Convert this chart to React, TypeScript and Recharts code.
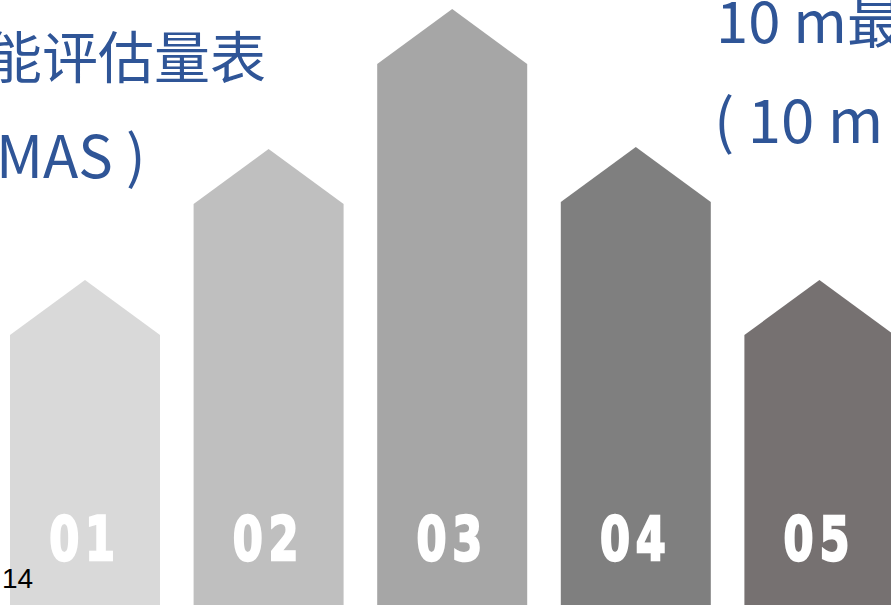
import React from 'react';
import { BarChart, Bar, XAxis, YAxis, Cell, LabelList } from 'recharts';

// arrow bars: value = height of the tip above the bottom edge
const steps = ['01', '02', '03', '04', '05'];
const heights = [325, 456, 596, 458, 325];
const colors = ['#D9D9D9', '#BFBFBF', '#A6A6A6', '#7F7F7F', '#767171'];

const leftTitle = ['能评估量表', 'MAS )'];
const rightTitle = ['10 m最', '( 10 m'];
const pageNo = '14';

const data = steps.map((step, i) => ({ step, height: heights[i] }));

const HEAD = 55;
const TITLE_BLUE = '#2F5597';

function Arrow(props: any) {
  const { x, y, width, height, fill } = props;
  if (!height) return null;
  const pts = [
    [x, y + HEAD],
    [x + width / 2, y],
    [x + width, y + HEAD],
    [x + width, y + height],
    [x, y + height],
  ]
    .map((p) => p.join(','))
    .join(' ');
  return <polygon points={pts} fill={fill} />;
}

function StepLabel(props: any) {
  const { x, y, width, height, value } = props;
  const cx = x + width / 2;
  const by = y + height - 45;
  return (
    <text
      x={0}
      y={0}
      transform={`translate(${cx},${by}) scale(0.72,1)`}
      textAnchor="middle"
      fill="#fff"
      stroke="#fff"
      strokeWidth={2.5}
      fontSize={60}
      fontWeight="bold"
      letterSpacing={8}
      fontFamily="'DejaVu Sans', sans-serif"
    >
      {value}
    </text>
  );
}

export default function App() {
  return (
    <div style={{ position: 'absolute', left: 0, top: 0, width: 891, height: 605, overflow: 'hidden', background: '#fff' }}>
      <div style={{ position: 'absolute', left: -7, top: 0 }}>
        <BarChart
          width={918}
          height={605}
          data={data}
          margin={{ top: 0, right: 0, left: 0, bottom: 0 }}
          barSize={150}
        >
          <XAxis dataKey="step" hide />
          <YAxis hide domain={[0, 605]} />
          <Bar dataKey="height" shape={Arrow} isAnimationActive={false}>
            {data.map((d, i) => (
              <Cell key={d.step} fill={colors[i]} />
            ))}
            <LabelList dataKey="step" content={StepLabel} />
          </Bar>
        </BarChart>
      </div>
      <svg
        width={891}
        height={605}
        style={{ position: 'absolute', left: 0, top: 0, pointerEvents: 'none' }}
        fontFamily="'Noto Sans CJK SC', 'Noto Sans', sans-serif"
      >
        <text x={-14} y={78} fontSize={56} fill={TITLE_BLUE}>{leftTitle[0]}</text>
        <text x={-4} y={178} fontSize={58} fill={TITLE_BLUE}>{leftTitle[1]}</text>
        <text x={716} y={43} fontSize={58} fill={TITLE_BLUE}>{rightTitle[0]}</text>
        <text x={714} y={143} fontSize={60} fill={TITLE_BLUE}>{rightTitle[1]}</text>
        <text x={2} y={588} fontSize={28} fill="#000" fontFamily="'Liberation Sans', Arial, sans-serif">{pageNo}</text>
      </svg>
    </div>
  );
}
